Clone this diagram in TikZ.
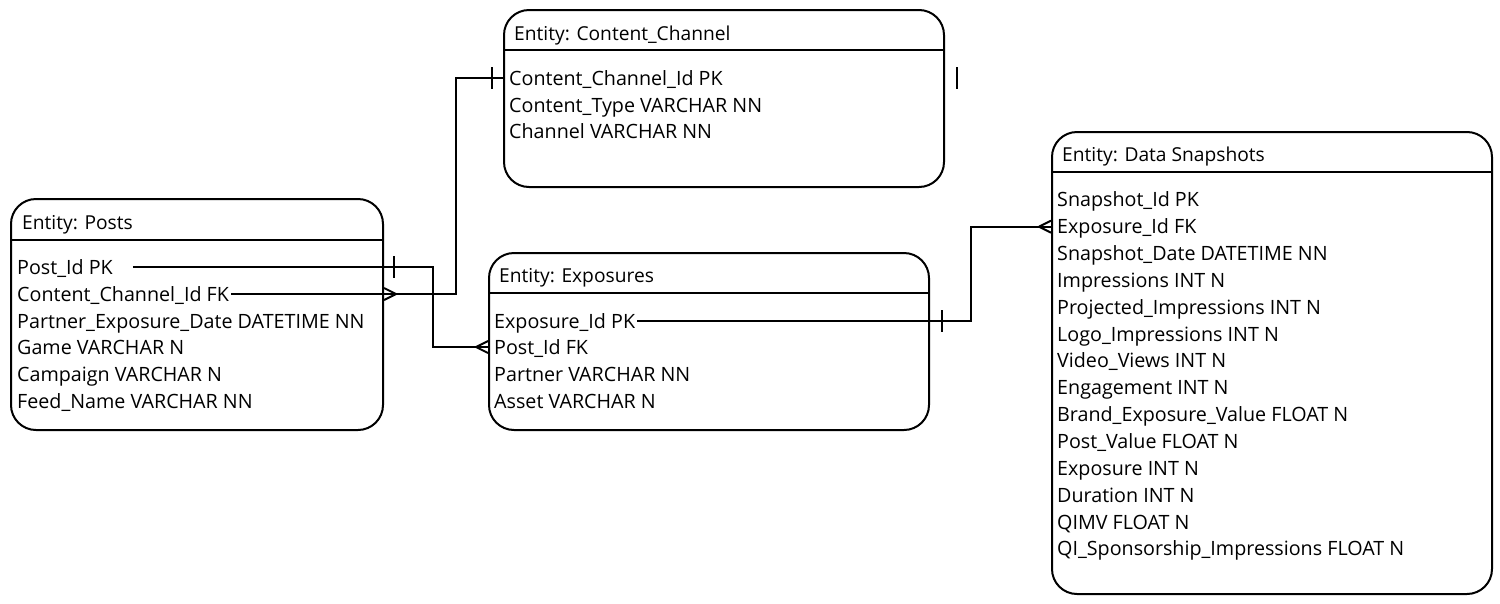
\documentclass[tikz,border=0pt]{standalone}
\usepackage{fontspec}
\setmainfont{Open Sans}
\usetikzlibrary{positioning}
\tikzset{
  entity/.style  = {draw, line width=2pt, rounded corners=25pt,
                    anchor=north west, inner sep=0pt},
  title/.style   = {anchor=west, inner sep=0pt, text height=15pt, text depth=1pt,
                    font=\fontsize{19.2}{22}\selectfont},
  field/.style   = {anchor=west, inner sep=0pt, text height=15pt, text depth=1pt,
                    font=\fontsize{19.7}{22}\selectfont},
  link/.style    = {line width=2pt},
  crowfoot/.pic  = {\draw[link] (-12,0) -- (0,-6) (-12,0) -- (0,6);},
  onebar/.pic    = {\draw[link] (0,-11) -- (0,11);}
}

\begin{document}
\begin{tikzpicture}[x=1pt, y=-1pt]
  \useasboundingbox (0,0) rectangle (1500,603);

  % Posts
  \node[entity, minimum width=372pt, minimum height=231pt] (posts) at (10,198) {};
  \draw[link] ([yshift=-42pt]posts.north west) -- ([yshift=-42pt]posts.north east);
  \node[title] (posts-title) at (22,222) {Entity: Posts};
  \node[field] (p-pid) at (17,267) {Post\_Id PK};
  \node[field] (p-cid) at (17,294) {Content\_Channel\_Id FK};
  \node[field] (p-date) at (17,321) {Partner\_Exposure\_Date DATETIME NN};
  \node[field] (p-game) at (17,347) {Game VARCHAR N};
  \node[field] (p-camp) at (17,374) {Campaign VARCHAR N};
  \node[field] (p-feed) at (17,401) {Feed\_Name VARCHAR NN};

  % Content_Channel
  \node[entity, minimum width=440pt, minimum height=177pt] (channel) at (503,9) {};
  \draw[link] ([yshift=-41pt]channel.north west) -- ([yshift=-41pt]channel.north east);
  \node[title] (channel-title) at (514,33) {Entity: Content\_Channel};
  \node[field] (c-id) at (509,78) {Content\_Channel\_Id PK};
  \node[field] (c-type) at (509,105) {Content\_Type VARCHAR NN};
  \node[field] (c-chan) at (509,131) {Channel VARCHAR NN};

  % Exposures
  \node[entity, minimum width=440pt, minimum height=177pt] (exposures) at (488,252) {};
  \draw[link] ([yshift=-41pt]exposures.north west) -- ([yshift=-41pt]exposures.north east);
  \node[title] (exposures-title) at (499,275) {Entity: Exposures};
  \node[field] (e-eid) at (494,321) {Exposure\_Id PK};
  \node[field] (e-pid) at (494,347) {Post\_Id FK};
  \node[field] (e-partner) at (494,374) {Partner VARCHAR NN};
  \node[field] (e-asset) at (494,401) {Asset VARCHAR N};

  % Data Snapshots
  \node[entity, minimum width=440pt, minimum height=462pt] (snapshots) at (1051,131) {};
  \draw[link] ([yshift=-41pt]snapshots.north west) -- ([yshift=-41pt]snapshots.north east);
  \node[title] (snapshots-title) at (1062,154) {Entity: Data Snapshots};
  \foreach \name [count=\i] in {Snapshot\_Id PK, Exposure\_Id FK,
      Snapshot\_Date DATETIME NN, Impressions INT N, Projected\_Impressions INT N,
      Logo\_Impressions INT N, Video\_Views INT N, Engagement INT N,
      Brand\_Exposure\_Value FLOAT N, Post\_Value FLOAT N, Exposure INT N,
      Duration INT N, QIMV FLOAT N, QI\_Sponsorship\_Impressions FLOAT N}
    \node[field] (s-\i) at (1057,{173+26.85*\i}) {\name};

  % relationships
  \coordinate (bendA) at (433,0);
  \coordinate (bendB) at (456,0);
  \coordinate (bendC) at (971,0);

  \draw[link] ([xshift=20pt]p-pid.east) -| (bendA |- e-pid) -- (exposures.west |- e-pid);
  \pic[xshift=10pt] at (posts.east |- p-pid) {onebar};
  \pic at (exposures.west |- e-pid) {crowfoot};

  \draw[link] ([xshift=2pt]p-cid.east) -| (bendB |- c-id) -- (channel.west |- c-id);
  \pic[xscale=-1] at (posts.east |- p-cid) {crowfoot};
  \pic[xshift=-11pt] at (channel.west |- c-id) {onebar};
  \pic[xshift=12pt] at (channel.east |- c-id) {onebar};

  \draw[link] ([xshift=2pt]e-eid.east) -| (bendC |- s-2) -- (snapshots.west |- s-2);
  \pic[xshift=12pt] at (exposures.east |- e-eid) {onebar};
  \pic at (snapshots.west |- s-2) {crowfoot};
\end{tikzpicture}
\end{document}
